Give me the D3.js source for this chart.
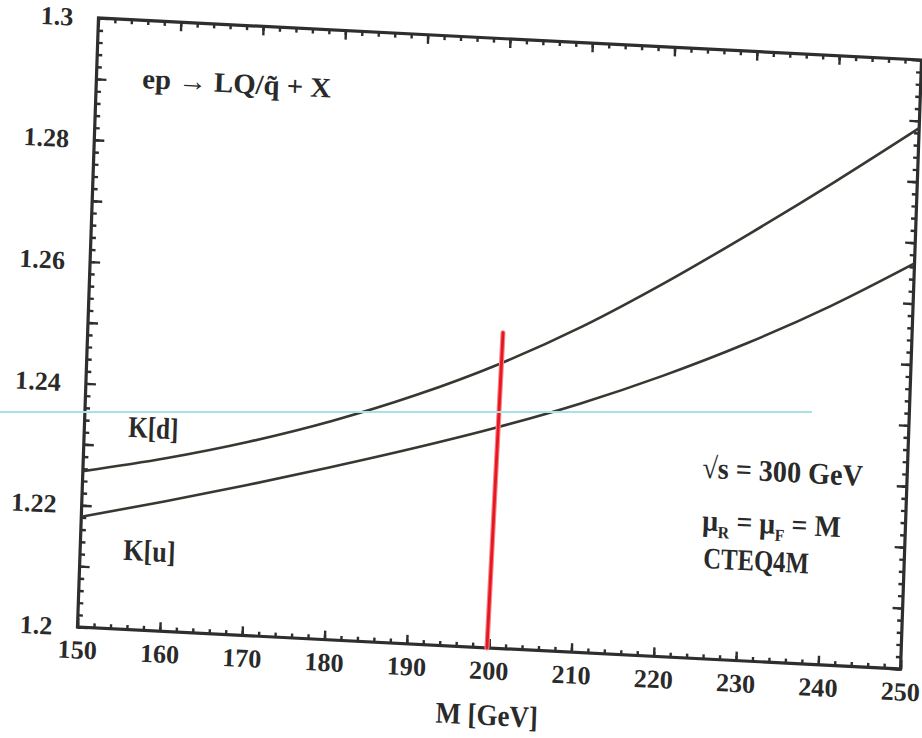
<!DOCTYPE html>
<html>
<head>
<meta charset="utf-8">
<script src="https://cdn.jsdelivr.net/npm/d3@7"></script>
<style>
  body { margin: 0; background: #fff; }
</style>
</head>
<body>
<svg id="chart" width="922" height="738"></svg>
<script>
// K-factor curves
const massValues = [150, 160, 170, 180, 190, 200, 210, 220, 230, 240, 250];
const kD = [1.2256, 1.2284, 1.2318, 1.2359, 1.2408, 1.2466, 1.2535, 1.2615, 1.2702, 1.2793, 1.2888];
const kU = [1.2181, 1.2213, 1.2247, 1.2283, 1.2321, 1.2362, 1.2408, 1.2461, 1.2521, 1.2589, 1.2666];

const xTickValues = [150, 160, 170, 180, 190, 200, 210, 220, 230, 240, 250];
const yTickValues = [1.2, 1.22, 1.24, 1.26, 1.28, 1.3];
const yTickLabels = ["1.2", "1.22", "1.24", "1.26", "1.28", "1.3"];

// hand-drawn red marker (M, K) at both ends
const markerM = [199.75, 200.38];
const markerK = [1.2, 1.2518];

const FONT = "Liberation Serif, DejaVu Serif, serif";
const INK = "#2a2a2a";

const svg = d3.select("#chart");
const W = 820, H = 609;

// the scan is slightly rotated / skewed, so the whole plot sits in a tilted frame
const g = svg.append("g")
  .attr("transform", "matrix(1.0037,0.0512,-0.0345,1,98.5,18)");

const x = d3.scaleLinear().domain([150, 250]).range([0, W]);
const y = d3.scaleLinear().domain([1.2, 1.3]).range([H, 0]);

const minorX = d3.range(150, 251, 2);
const majorY = d3.range(0, 11).map(i => 1.2 + i * 0.01);
const minorY = d3.range(0, 51).map(i => 1.2 + i * 0.002);

function styleAxis(sel) {
  sel.select(".domain").remove();
  sel.selectAll("line").attr("stroke", "#2e2e2e").attr("stroke-width", 2.4);
  sel.selectAll("text").attr("font-size", 26).attr("font-weight", "bold")
    .attr("font-family", FONT).attr("fill", INK);
}

// bottom
g.append("g").attr("transform", `translate(0,${H})`)
  .call(d3.axisBottom(x).tickValues(minorX).tickSize(-4.5).tickFormat(""))
  .call(styleAxis);
g.append("g").attr("transform", `translate(0,${H})`)
  .call(d3.axisBottom(x).tickValues(xTickValues).tickSize(-9).tickPadding(13).tickFormat(d3.format("d")))
  .call(styleAxis);
// top
g.append("g")
  .call(d3.axisTop(x).tickValues(minorX).tickSize(-4.5).tickFormat(""))
  .call(styleAxis);
g.append("g")
  .call(d3.axisTop(x).tickValues(xTickValues).tickSize(-9).tickFormat(""))
  .call(styleAxis);
// left
g.append("g")
  .call(d3.axisLeft(y).tickValues(minorY).tickSize(-5).tickFormat(""))
  .call(styleAxis);
g.append("g")
  .call(d3.axisLeft(y).tickValues(majorY).tickSize(-10).tickFormat(""))
  .call(styleAxis);
g.append("g")
  .call(d3.axisLeft(y).tickValues(yTickValues).tickSize(0).tickPadding(25)
    .tickFormat((d, i) => yTickLabels[i]))
  .call(styleAxis);
// right
g.append("g").attr("transform", `translate(${W},0)`)
  .call(d3.axisRight(y).tickValues(minorY).tickSize(-5).tickFormat(""))
  .call(styleAxis);
g.append("g").attr("transform", `translate(${W},0)`)
  .call(d3.axisRight(y).tickValues(majorY).tickSize(-10).tickFormat(""))
  .call(styleAxis);

// frame
g.append("rect")
  .attr("x", 0).attr("y", 0).attr("width", W).attr("height", H)
  .attr("fill", "none").attr("stroke", "#2e2e2e").attr("stroke-width", 3.2);

// curves
const line = d3.line()
  .x((d, i) => x(massValues[i]))
  .y(d => y(d))
  .curve(d3.curveMonotoneX);

[kD, kU].forEach(series => {
  g.append("path")
    .attr("d", line(series))
    .attr("fill", "none")
    .attr("stroke", "#383833")
    .attr("stroke-width", 2.6);
});

// labels inside the plot (tall, narrow face in the scan -> squeeze with textLength)
function label(m, k, txt, len, size) {
  return g.append("text")
    .attr("x", x(m)).attr("y", y(k))
    .attr("font-family", FONT)
    .attr("font-size", size || 30)
    .attr("font-weight", "bold")
    .attr("fill", INK)
    .attr("textLength", len)
    .attr("lengthAdjust", "spacingAndGlyphs")
    .text(txt);
}
label(155.57, 1.2889, "ep → LQ/q̃ + X", 188, 28);
label(155.33, 1.2316, "K[d]", 50);
label(155.24, 1.2114, "K[u]", 52);
label(225.12, 1.2297, "√s = 300 GeV", 160);
const mu = label(225.34, 1.2211, "", 138);
mu.append("tspan").text("μ");
mu.append("tspan").attr("font-size", 17).attr("dy", 7).text("R");
mu.append("tspan").attr("dy", -7).text(" = μ");
mu.append("tspan").attr("font-size", 17).attr("dy", 7).text("F");
mu.append("tspan").attr("dy", -7).text(" = M");
label(225.62, 1.2149, "CTEQ4M", 105);

// axis title
g.append("text")
  .attr("x", x(200)).attr("y", H + 77)
  .attr("text-anchor", "middle")
  .attr("font-family", FONT)
  .attr("font-size", 30)
  .attr("font-weight", "bold")
  .attr("fill", INK)
  .attr("textLength", 102)
  .attr("lengthAdjust", "spacingAndGlyphs")
  .text("M [GeV]");

// red pen mark
g.append("line")
  .attr("x1", x(markerM[0])).attr("y1", y(markerK[0]))
  .attr("x2", x(markerM[1])).attr("y2", y(markerK[1]))
  .attr("stroke", "#f2868a")
  .attr("stroke-width", 5)
  .attr("stroke-linecap", "round");
g.append("line")
  .attr("x1", x(markerM[0])).attr("y1", y(markerK[0]))
  .attr("x2", x(markerM[1])).attr("y2", y(markerK[1]))
  .attr("stroke", "#e8161e")
  .attr("stroke-width", 2.8)
  .attr("stroke-linecap", "round");

// faint cyan scanner streak across the page (not part of the data)
svg.append("line")
  .attr("x1", 0).attr("x2", 812).attr("y1", 412).attr("y2", 412)
  .attr("stroke", "#a6e3e6").attr("stroke-width", 2);
</script>
</body>
</html>
